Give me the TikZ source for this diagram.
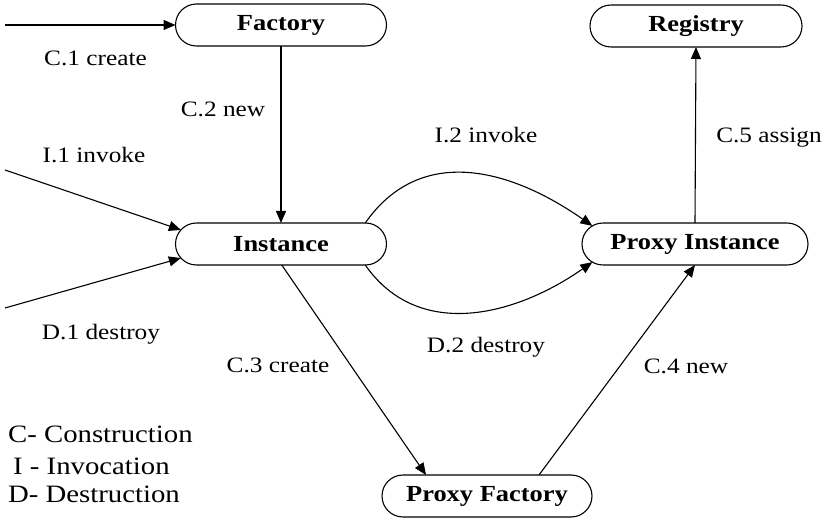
\documentclass[tikz,border=0pt]{standalone}
\usepackage{fontspec}
\setmainfont[FakeStretch=1.15]{Liberation Serif}
\usetikzlibrary{shapes.misc,arrows.meta}

\tikzset{
  statebox/.style={rounded rectangle, draw, line width=1.1pt, minimum height=42pt,
    inner sep=0pt, outer sep=0pt, font=\bfseries\fontsize{23}{26}\selectfont},
  flow/.style={line width=1.1pt, -{Triangle[length=12pt,width=10pt]}},
  lbl/.style={inner sep=0pt, anchor=base, font=\fontsize{22}{25}\selectfont},
  legend/.style={inner sep=0pt, anchor=base west, font=\fontsize{25}{28}\selectfont}
}

\begin{document}
\begin{tikzpicture}[x=1pt,y=1pt]
  \useasboundingbox (0,0) rectangle (823,520);

  % lifecycle states
  \node[statebox, minimum width=211pt] (fac)   at (281,495) {Factory};
  \node[statebox, minimum width=212pt] (reg)   at (696,494) {Registry};
  \node[statebox, minimum width=211pt] (inst)  at (281,276) {Instance};
  \node[statebox, minimum width=226pt] (pinst) at (695,276) {Proxy Instance};
  \node[statebox, minimum width=210pt] (pf)    at (487,24)  {Proxy Factory};

  % free ends of the incoming calls
  \coordinate (c1) at (5,495);
  \coordinate (i1) at (5,350);
  \coordinate (d1) at (5,212);

  % construction
  \draw[flow] (c1) -- (fac.west);
  \draw[flow] (fac.south) -- (inst.north);
  \draw[flow] (inst.-88) -- (pf.161);
  \draw[flow] (pf.22) -- (pinst.south);
  \draw[flow] (pinst.north) -- (reg.south);

  % invocation and destruction
  \draw[flow] (i1) -- (inst.172);
  \draw[flow] (d1) -- (inst.188);
  \draw[flow] (inst.14) to[out=55,in=145,looseness=1.1] (pinst.170);
  \draw[flow] (inst.-14) to[out=-55,in=-145,looseness=1.05] (pinst.190);

  % message labels
  \node[lbl] (lc1) at (95.5,454) {C.1 create};
  \node[lbl] (lc2) at (223,403) {C.2 new};
  \node[lbl] (li1) at (94,357) {I.1 invoke};
  \node[lbl] (ld1) at (101,180) {D.1 destroy};
  \node[lbl] (lc3) at (278,147) {C.3 create};
  \node[lbl] (li2) at (486,377) {I.2 invoke};
  \node[lbl] (lc5) at (769,377) {C.5 assign};
  \node[lbl] (ld2) at (486,167) {D.2 destroy};
  \node[lbl] (lc4) at (686,146) {C.4 new};

  % key
  \node[legend] (kc) at (8,77)  {C- Construction};
  \node[legend] (ki) at (13,45) {I - Invocation};
  \node[legend] (kd) at (8,17)  {D- Destruction};
\end{tikzpicture}
\end{document}
